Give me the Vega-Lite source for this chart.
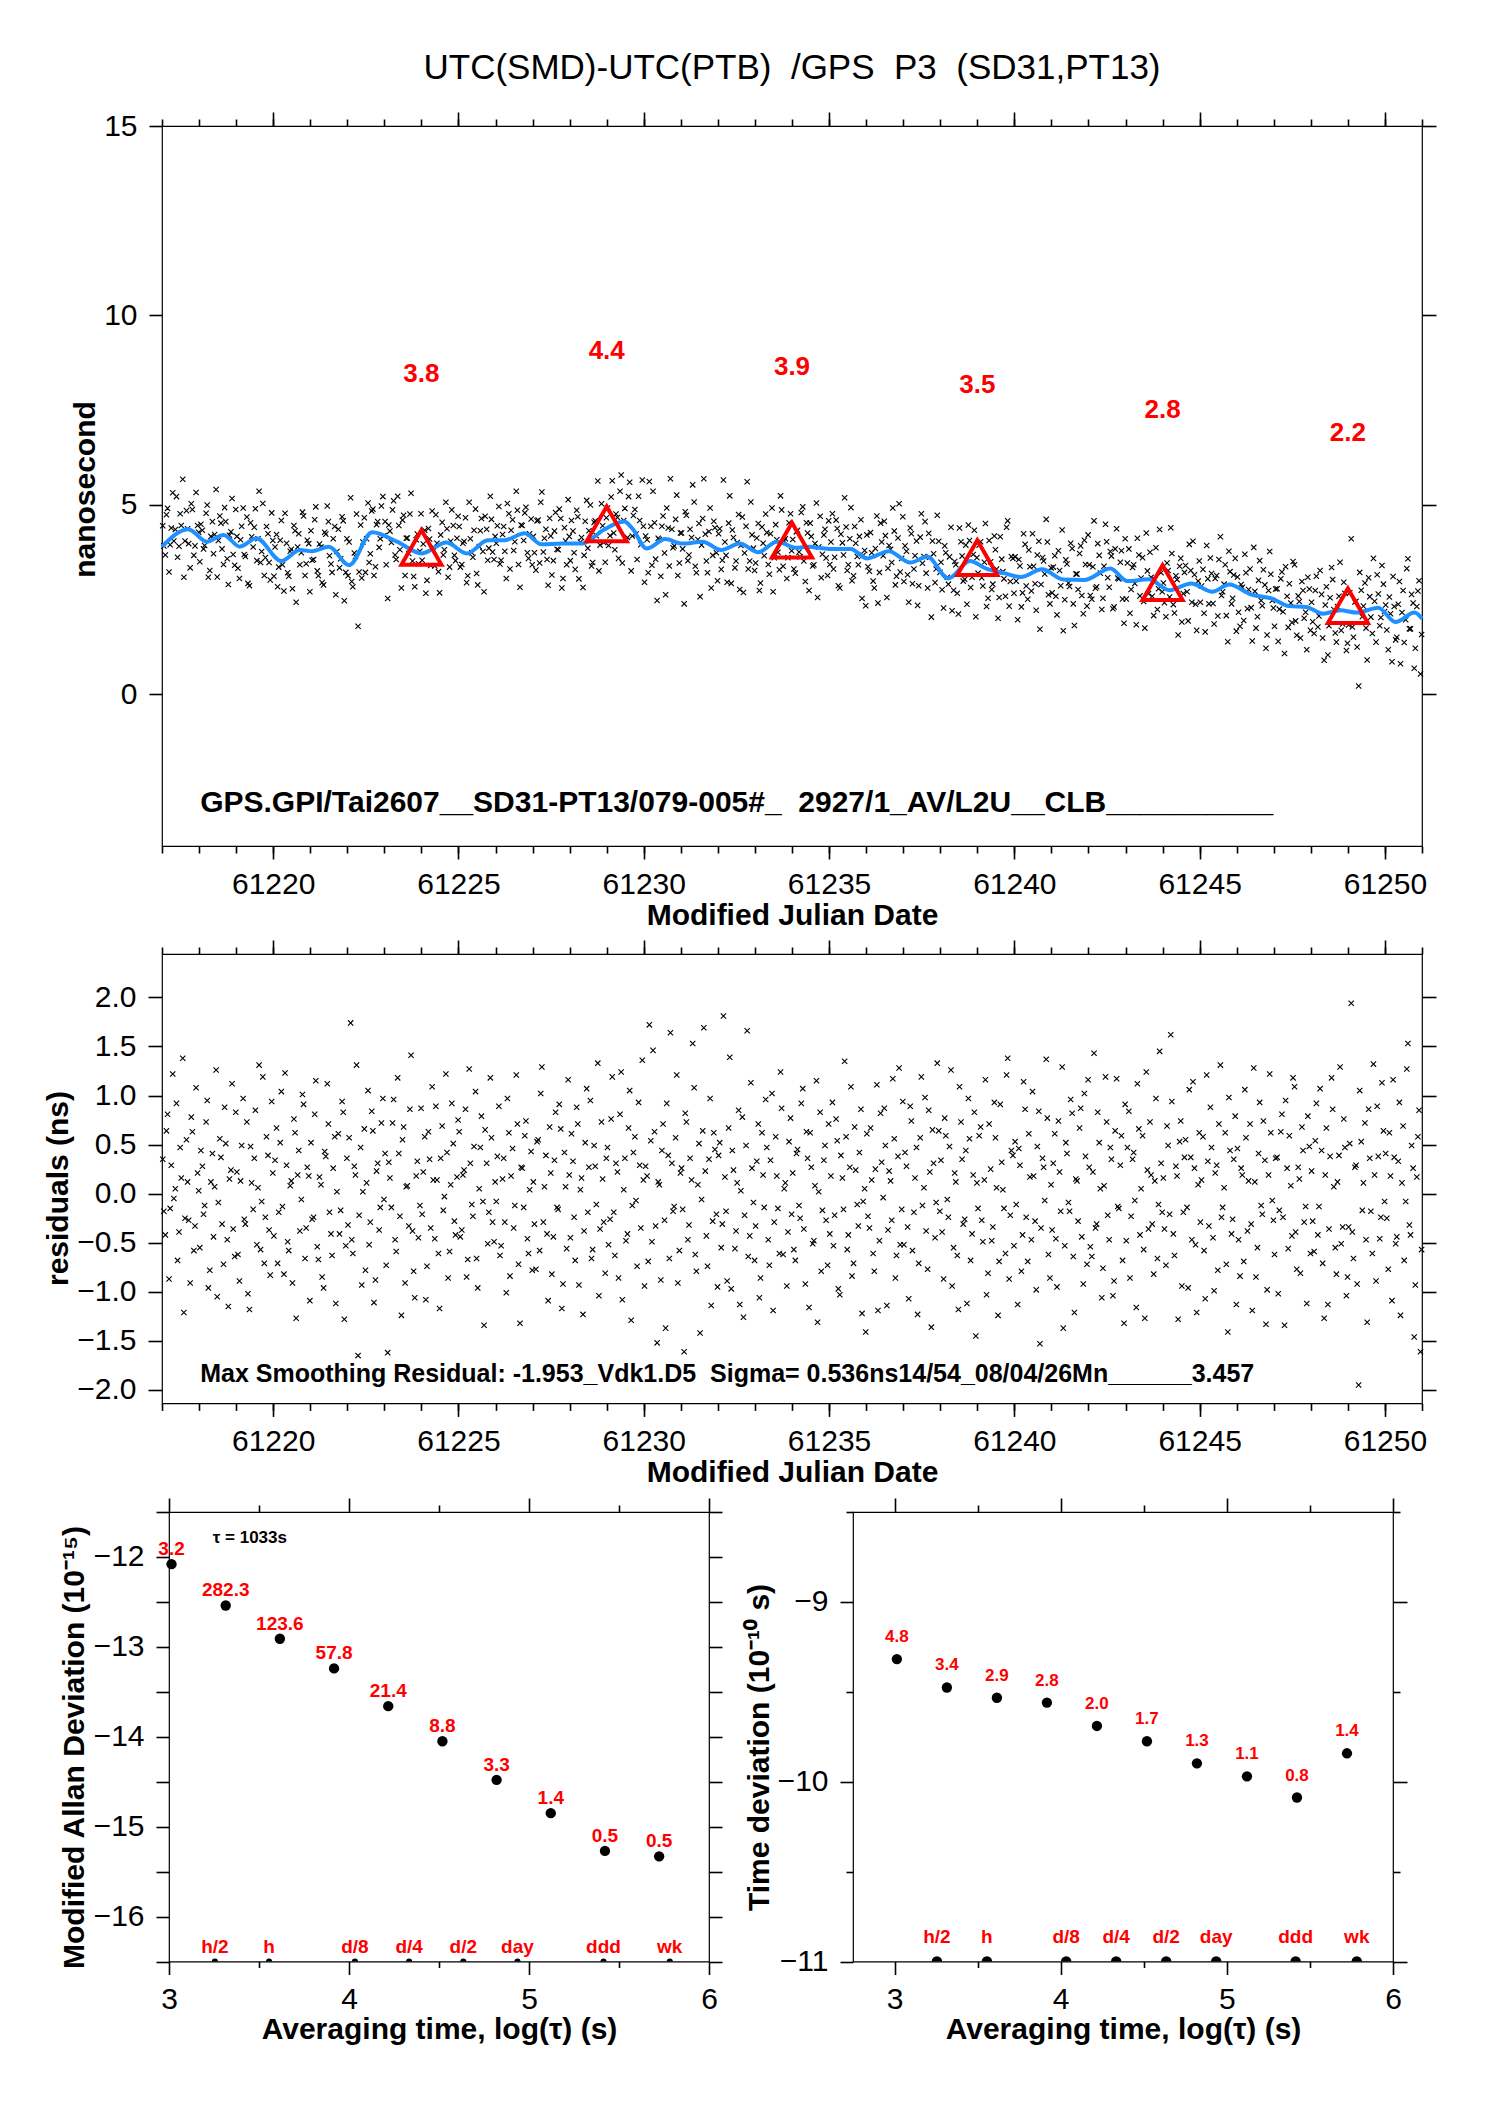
{
  "$schema": "https://vega.github.io/schema/vega-lite/v6.json",
  "background": "white",
  "padding": {"left": 42, "top": 50, "right": 0, "bottom": 0},
  "bounds": "flush",
  "spacing": 108,
  "config": {
    "view": {"stroke": "#000", "strokeWidth": 1.2},
    "axis": {"domain": false, "grid": false, "tickColor": "#000", "tickWidth": 1.6, "labelFont": "Liberation Sans", "labelFontSize": 30, "labelColor": "#000", "labelPadding": 10, "labelFlush": false, "labelOverlap": false, "labelBound": false, "titleFont": "Liberation Sans", "titleFontSize": 30, "titleFontWeight": "bold", "titleColor": "#000"},
    "axisY": {"labelPadding": 12},
    "text": {"font": "Liberation Sans"},
    "title": {"font": "Liberation Sans"}
  },
  "datasets": {
    "obs": [
      {"t":61217.02,"v":4.45,"r":0.35},{"t":61217.09,"v":3.68,"r":-0.42},{"t":61217.15,"v":4.91,"r":0.81},{"t":61217.22,"v":3.95,"r":-0.15},{"t":61217.29,"v":5.32,"r":1.22},{"t":61217.36,"v":4.35,"r":0.05},{"t":61217.42,"v":3.62,"r":-0.68},{"t":61217.49,"v":4.77,"r":0.47},{"t":61217.56,"v":5.68,"r":1.38},{"t":61217.62,"v":4.05,"r":-0.25},{"t":61217.69,"v":4.37,"r":0.12},{"t":61217.76,"v":3.34,"r":-0.91},{"t":61217.82,"v":4.88,"r":0.63},{"t":61217.89,"v":3.92,"r":-0.33},{"t":61217.96,"v":4.46,"r":0.21},
      {"t":61218.02,"v":3.50,"r":-0.55},{"t":61218.09,"v":4.33,"r":0.28},{"t":61218.15,"v":3.93,"r":-0.12},{"t":61218.22,"v":5.00,"r":0.95},{"t":61218.29,"v":3.27,"r":-0.78},{"t":61218.36,"v":4.56,"r":0.41},{"t":61218.42,"v":4.22,"r":0.07},{"t":61218.49,"v":3.10,"r":-1.05},{"t":61218.56,"v":4.71,"r":0.56},{"t":61218.62,"v":3.84,"r":-0.31},{"t":61218.69,"v":4.93,"r":0.88},{"t":61218.76,"v":3.58,"r":-0.47},{"t":61218.82,"v":4.20,"r":0.15},{"t":61218.89,"v":5.17,"r":1.12},{"t":61218.96,"v":3.41,"r":-0.64},
      {"t":61219.02,"v":4.17,"r":0.22},{"t":61219.09,"v":3.06,"r":-0.89},{"t":61219.15,"v":4.44,"r":0.49},{"t":61219.22,"v":3.69,"r":-0.26},{"t":61219.29,"v":4.68,"r":0.73},{"t":61219.36,"v":2.87,"r":-1.18},{"t":61219.42,"v":4.16,"r":0.11},{"t":61219.49,"v":4.41,"r":0.36},{"t":61219.56,"v":3.53,"r":-0.52},{"t":61219.62,"v":5.36,"r":1.31},{"t":61219.69,"v":3.77,"r":-0.08},{"t":61219.76,"v":3.14,"r":-0.71},{"t":61219.82,"v":4.43,"r":0.58},{"t":61219.89,"v":3.48,"r":-0.37},{"t":61219.96,"v":4.79,"r":0.94},
      {"t":61220.02,"v":3.12,"r":-0.43},{"t":61220.09,"v":4.22,"r":0.67},{"t":61220.15,"v":3.36,"r":-0.19},{"t":61220.22,"v":4.59,"r":1.04},{"t":61220.29,"v":2.73,"r":-0.82},{"t":61220.36,"v":3.99,"r":0.29},{"t":61220.42,"v":3.12,"r":-0.58},{"t":61220.49,"v":3.83,"r":0.13},{"t":61220.56,"v":4.46,"r":0.76},{"t":61220.62,"v":2.43,"r":-1.27},{"t":61220.69,"v":4.24,"r":0.44},{"t":61220.76,"v":3.74,"r":-0.06},{"t":61220.82,"v":4.71,"r":0.91},{"t":61220.89,"v":3.45,"r":-0.35},{"t":61220.96,"v":3.98,"r":0.18},
      {"t":61221.02,"v":4.32,"r":0.52},{"t":61221.09,"v":3.56,"r":-0.24},{"t":61221.15,"v":4.95,"r":1.15},{"t":61221.22,"v":3.13,"r":-0.67},{"t":61221.29,"v":3.89,"r":0.09},{"t":61221.36,"v":2.89,"r":-0.96},{"t":61221.42,"v":4.23,"r":0.38},{"t":61221.49,"v":4.56,"r":0.71},{"t":61221.56,"v":3.44,"r":-0.41},{"t":61221.62,"v":4.11,"r":0.26},{"t":61221.69,"v":2.63,"r":-1.12},{"t":61221.76,"v":4.36,"r":0.61},{"t":61221.82,"v":3.58,"r":-0.17},{"t":61221.89,"v":4.58,"r":0.83},{"t":61221.96,"v":3.22,"r":-0.53},
      {"t":61222.02,"v":3.13,"r":-0.32},{"t":61222.09,"v":5.19,"r":1.74},{"t":61222.15,"v":2.84,"r":-0.61},{"t":61222.22,"v":3.64,"r":0.19},{"t":61222.29,"v":1.80,"r":-1.65},{"t":61222.36,"v":4.47,"r":0.47},{"t":61222.42,"v":4.02,"r":0.02},{"t":61222.49,"v":3.22,"r":-0.78},{"t":61222.56,"v":5.05,"r":1.05},{"t":61222.62,"v":3.71,"r":-0.29},{"t":61222.69,"v":4.89,"r":0.64},{"t":61222.76,"v":3.37,"r":-0.88},{"t":61222.82,"v":4.56,"r":0.31},{"t":61222.89,"v":4.11,"r":-0.14},{"t":61222.96,"v":5.22,"r":0.97},
      {"t":61223.02,"v":4.56,"r":0.41},{"t":61223.09,"v":2.53,"r":-1.62},{"t":61223.15,"v":4.31,"r":0.16},{"t":61223.22,"v":4.87,"r":0.72},{"t":61223.29,"v":3.68,"r":-0.47},{"t":61223.36,"v":5.23,"r":1.18},{"t":61223.42,"v":3.82,"r":-0.23},{"t":61223.49,"v":4.60,"r":0.55},{"t":61223.56,"v":3.14,"r":-0.91},{"t":61223.62,"v":4.13,"r":0.08},{"t":61223.69,"v":4.76,"r":0.86},{"t":61223.76,"v":3.52,"r":-0.38},{"t":61223.82,"v":2.84,"r":-1.06},{"t":61223.89,"v":4.23,"r":0.33},{"t":61223.96,"v":3.78,"r":-0.12},
      {"t":61224.02,"v":3.54,"r":-0.21},{"t":61224.09,"v":4.33,"r":0.58},{"t":61224.15,"v":3.01,"r":-0.74},{"t":61224.22,"v":4.10,"r":0.35},{"t":61224.29,"v":4.84,"r":1.09},{"t":61224.36,"v":3.39,"r":-0.46},{"t":61224.42,"v":3.99,"r":0.14},{"t":61224.49,"v":2.68,"r":-1.17},{"t":61224.56,"v":4.54,"r":0.69},{"t":61224.62,"v":3.82,"r":-0.03},{"t":61224.69,"v":4.37,"r":0.42},{"t":61224.76,"v":3.36,"r":-0.59},{"t":61224.82,"v":4.87,"r":0.92},{"t":61224.89,"v":3.67,"r":-0.28},{"t":61224.96,"v":4.12,"r":0.17},
      {"t":61225.02,"v":4.43,"r":0.63},{"t":61225.09,"v":3.43,"r":-0.37},{"t":61225.15,"v":4.04,"r":0.24},{"t":61225.22,"v":2.95,"r":-0.85},{"t":61225.29,"v":5.07,"r":1.27},{"t":61225.36,"v":3.74,"r":-0.11},{"t":61225.42,"v":4.33,"r":0.48},{"t":61225.49,"v":3.19,"r":-0.66},{"t":61225.56,"v":3.90,"r":0.05},{"t":61225.62,"v":4.64,"r":0.79},{"t":61225.69,"v":2.71,"r":-1.34},{"t":61225.76,"v":4.36,"r":0.31},{"t":61225.82,"v":3.86,"r":-0.19},{"t":61225.89,"v":4.62,"r":0.57},{"t":61225.96,"v":3.56,"r":-0.49},
      {"t":61226.02,"v":3.99,"r":-0.08},{"t":61226.09,"v":4.96,"r":0.89},{"t":61226.15,"v":3.54,"r":-0.53},{"t":61226.22,"v":4.43,"r":0.36},{"t":61226.29,"v":3.06,"r":-1.01},{"t":61226.36,"v":4.77,"r":0.62},{"t":61226.42,"v":4.33,"r":0.18},{"t":61226.49,"v":3.80,"r":-0.35},{"t":61226.56,"v":5.36,"r":1.21},{"t":61226.62,"v":3.43,"r":-0.72},{"t":61226.69,"v":4.47,"r":0.27},{"t":61226.76,"v":4.06,"r":-0.14},{"t":61226.82,"v":4.94,"r":0.74},{"t":61226.89,"v":3.59,"r":-0.61},{"t":61226.96,"v":4.63,"r":0.43},
      {"t":61227.02,"v":4.17,"r":0.12},{"t":61227.09,"v":3.28,"r":-0.77},{"t":61227.15,"v":4.60,"r":0.55},{"t":61227.22,"v":5.07,"r":1.02},{"t":61227.29,"v":3.76,"r":-0.29},{"t":61227.36,"v":4.36,"r":0.39},{"t":61227.42,"v":2.88,"r":-1.09},{"t":61227.49,"v":4.18,"r":0.21},{"t":61227.56,"v":3.53,"r":-0.44},{"t":61227.62,"v":4.80,"r":0.83},{"t":61227.69,"v":3.82,"r":-0.16},{"t":61227.76,"v":4.64,"r":0.66},{"t":61227.82,"v":3.06,"r":-0.92},{"t":61227.89,"v":4.05,"r":0.07},{"t":61227.96,"v":5.14,"r":1.16},
      {"t":61228.02,"v":3.53,"r":-0.45},{"t":61228.09,"v":4.31,"r":0.33},{"t":61228.15,"v":3.30,"r":-0.68},{"t":61228.22,"v":4.69,"r":0.71},{"t":61228.29,"v":4.02,"r":0.04},{"t":61228.36,"v":2.82,"r":-1.23},{"t":61228.42,"v":4.57,"r":0.52},{"t":61228.49,"v":3.86,"r":-0.19},{"t":61228.56,"v":5.00,"r":0.95},{"t":61228.62,"v":3.48,"r":-0.57},{"t":61228.69,"v":4.58,"r":0.28},{"t":61228.76,"v":5.63,"r":1.33},{"t":61228.82,"v":3.94,"r":-0.36},{"t":61228.89,"v":4.45,"r":0.15},{"t":61228.96,"v":3.49,"r":-0.81},
      {"t":61229.02,"v":4.92,"r":0.47},{"t":61229.09,"v":4.19,"r":-0.26},{"t":61229.15,"v":5.64,"r":1.19},{"t":61229.22,"v":3.82,"r":-0.63},{"t":61229.29,"v":4.67,"r":0.22},{"t":61229.36,"v":5.36,"r":0.81},{"t":61229.42,"v":3.47,"r":-1.08},{"t":61229.49,"v":4.91,"r":0.36},{"t":61229.56,"v":4.14,"r":-0.41},{"t":61229.62,"v":5.60,"r":1.05},{"t":61229.69,"v":4.18,"r":-0.12},{"t":61229.76,"v":4.88,"r":0.58},{"t":61229.82,"v":3.56,"r":-0.74},{"t":61229.89,"v":4.59,"r":0.29},{"t":61229.96,"v":5.66,"r":1.36},
      {"t":61230.02,"v":2.96,"r":-0.94},{"t":61230.09,"v":4.08,"r":0.18},{"t":61230.15,"v":5.62,"r":1.72},{"t":61230.22,"v":3.41,"r":-0.49},{"t":61230.29,"v":4.53,"r":0.63},{"t":61230.36,"v":2.48,"r":-1.52},{"t":61230.42,"v":4.09,"r":0.09},{"t":61230.49,"v":4.44,"r":0.44},{"t":61230.56,"v":3.73,"r":-0.27},{"t":61230.62,"v":4.92,"r":0.92},{"t":61230.69,"v":3.39,"r":-0.66},{"t":61230.76,"v":4.36,"r":0.31},{"t":61230.82,"v":3.92,"r":-0.13},{"t":61230.89,"v":5.26,"r":1.21},{"t":61230.96,"v":3.47,"r":-0.58},
      {"t":61231.02,"v":4.26,"r":0.26},{"t":61231.09,"v":2.39,"r":-1.61},{"t":61231.15,"v":4.73,"r":0.73},{"t":61231.22,"v":3.68,"r":-0.32},{"t":61231.29,"v":4.14,"r":0.14},{"t":61231.36,"v":5.08,"r":1.08},{"t":61231.42,"v":3.21,"r":-0.79},{"t":61231.49,"v":4.51,"r":0.51},{"t":61231.56,"v":3.94,"r":-0.06},{"t":61231.62,"v":5.69,"r":1.69},{"t":61231.69,"v":3.52,"r":-0.43},{"t":61231.76,"v":4.30,"r":0.35},{"t":61231.82,"v":2.81,"r":-1.14},{"t":61231.89,"v":4.57,"r":0.62},{"t":61231.96,"v":3.74,"r":-0.21},
      {"t":61232.02,"v":4.24,"r":0.39},{"t":61232.09,"v":3.30,"r":-0.55},{"t":61232.15,"v":5.66,"r":1.81},{"t":61232.22,"v":3.67,"r":-0.18},{"t":61232.29,"v":4.52,"r":0.67},{"t":61232.36,"v":2.93,"r":-0.97},{"t":61232.42,"v":4.14,"r":0.24},{"t":61232.49,"v":3.52,"r":-0.38},{"t":61232.56,"v":4.75,"r":0.85},{"t":61232.62,"v":3.93,"r":0.03},{"t":61232.69,"v":2.69,"r":-1.26},{"t":61232.76,"v":4.44,"r":0.49},{"t":61232.82,"v":3.31,"r":-0.64},{"t":61232.89,"v":5.08,"r":1.13},{"t":61232.96,"v":3.86,"r":-0.09},
      {"t":61233.02,"v":3.47,"r":-0.33},{"t":61233.09,"v":4.51,"r":0.71},{"t":61233.15,"v":2.94,"r":-0.86},{"t":61233.22,"v":3.99,"r":0.19},{"t":61233.29,"v":4.76,"r":0.96},{"t":61233.36,"v":3.43,"r":-0.47},{"t":61233.42,"v":4.24,"r":0.34},{"t":61233.49,"v":2.71,"r":-1.19},{"t":61233.56,"v":4.48,"r":0.58},{"t":61233.62,"v":3.75,"r":-0.15},{"t":61233.69,"v":5.24,"r":1.24},{"t":61233.76,"v":3.38,"r":-0.62},{"t":61233.82,"v":4.11,"r":0.11},{"t":61233.89,"v":3.61,"r":-0.39},{"t":61233.96,"v":4.77,"r":0.77},
      {"t":61234.02,"v":4.09,"r":0.21},{"t":61234.09,"v":3.20,"r":-0.68},{"t":61234.15,"v":4.33,"r":0.45},{"t":61234.22,"v":3.63,"r":-0.25},{"t":61234.29,"v":4.95,"r":1.07},{"t":61234.36,"v":2.98,"r":-0.92},{"t":61234.42,"v":4.26,"r":0.36},{"t":61234.49,"v":4.52,"r":0.62},{"t":61234.56,"v":3.39,"r":-0.51},{"t":61234.62,"v":3.98,"r":0.08},{"t":61234.69,"v":2.56,"r":-1.31},{"t":61234.76,"v":4.70,"r":0.83},{"t":61234.82,"v":3.70,"r":-0.17},{"t":61234.89,"v":4.36,"r":0.49},{"t":61234.96,"v":3.14,"r":-0.73},
      {"t":61235.02,"v":3.43,"r":-0.41},{"t":61235.09,"v":4.77,"r":0.93},{"t":61235.15,"v":3.62,"r":-0.22},{"t":61235.22,"v":4.38,"r":0.54},{"t":61235.29,"v":2.81,"r":-1.03},{"t":61235.36,"v":4.00,"r":0.16},{"t":61235.42,"v":5.19,"r":1.35},{"t":61235.49,"v":3.27,"r":-0.57},{"t":61235.56,"v":4.11,"r":0.27},{"t":61235.62,"v":3.00,"r":-0.84},{"t":61235.69,"v":4.43,"r":0.68},{"t":61235.76,"v":3.64,"r":-0.11},{"t":61235.82,"v":4.17,"r":0.42},{"t":61235.89,"v":2.53,"r":-1.22},{"t":61235.96,"v":3.80,"r":0.05},
      {"t":61236.02,"v":4.21,"r":0.61},{"t":61236.09,"v":3.25,"r":-0.35},{"t":61236.15,"v":3.74,"r":0.14},{"t":61236.22,"v":2.81,"r":-0.79},{"t":61236.29,"v":4.71,"r":1.11},{"t":61236.36,"v":3.22,"r":-0.48},{"t":61236.42,"v":4.02,"r":0.32},{"t":61236.49,"v":4.57,"r":0.87},{"t":61236.56,"v":2.56,"r":-1.14},{"t":61236.62,"v":3.93,"r":0.23},{"t":61236.69,"v":3.48,"r":-0.27},{"t":61236.76,"v":4.31,"r":0.56},{"t":61236.82,"v":3.12,"r":-0.63},{"t":61236.89,"v":5.03,"r":1.28},{"t":61236.96,"v":3.59,"r":-0.16},
      {"t":61237.02,"v":2.98,"r":-0.52},{"t":61237.09,"v":3.78,"r":0.28},{"t":61237.15,"v":2.43,"r":-1.07},{"t":61237.22,"v":4.24,"r":0.74},{"t":61237.29,"v":3.31,"r":-0.19},{"t":61237.36,"v":4.05,"r":0.47},{"t":61237.42,"v":2.87,"r":-0.71},{"t":61237.49,"v":4.77,"r":1.19},{"t":61237.56,"v":3.64,"r":0.06},{"t":61237.62,"v":3.20,"r":-0.38},{"t":61237.69,"v":4.25,"r":0.85},{"t":61237.76,"v":2.04,"r":-1.36},{"t":61237.82,"v":3.71,"r":0.31},{"t":61237.89,"v":3.31,"r":-0.09},{"t":61237.96,"v":4.04,"r":0.64},
      {"t":61238.02,"v":3.49,"r":0.34},{"t":61238.09,"v":2.28,"r":-0.87},{"t":61238.15,"v":3.74,"r":0.59},{"t":61238.22,"v":2.91,"r":-0.24},{"t":61238.29,"v":4.41,"r":1.26},{"t":61238.36,"v":2.75,"r":-0.55},{"t":61238.42,"v":3.42,"r":0.12},{"t":61238.49,"v":2.12,"r":-1.18},{"t":61238.56,"v":4.03,"r":0.73},{"t":61238.62,"v":2.99,"r":-0.31},{"t":61238.69,"v":3.94,"r":0.44},{"t":61238.76,"v":4.47,"r":0.97},{"t":61238.82,"v":2.82,"r":-0.68},{"t":61238.89,"v":3.69,"r":0.19},{"t":61238.96,"v":2.05,"r":-1.45},
      {"t":61239.02,"v":3.20,"r":-0.15},{"t":61239.09,"v":4.03,"r":0.68},{"t":61239.15,"v":2.86,"r":-0.49},{"t":61239.22,"v":4.51,"r":1.16},{"t":61239.29,"v":2.54,"r":-0.81},{"t":61239.36,"v":3.50,"r":0.25},{"t":61239.42,"v":2.91,"r":-0.34},{"t":61239.49,"v":3.82,"r":0.57},{"t":61239.56,"v":2.01,"r":-1.24},{"t":61239.62,"v":4.16,"r":0.91},{"t":61239.69,"v":3.24,"r":0.04},{"t":61239.76,"v":2.59,"r":-0.61},{"t":61239.82,"v":4.58,"r":1.38},{"t":61239.89,"v":2.98,"r":-0.22},{"t":61239.96,"v":3.59,"r":0.39},
      {"t":61240.02,"v":3.63,"r":0.53},{"t":61240.09,"v":1.97,"r":-1.13},{"t":61240.15,"v":3.39,"r":0.29},{"t":61240.22,"v":2.68,"r":-0.42},{"t":61240.29,"v":3.96,"r":0.86},{"t":61240.36,"v":2.51,"r":-0.69},{"t":61240.42,"v":3.37,"r":0.17},{"t":61240.49,"v":4.24,"r":1.04},{"t":61240.56,"v":2.92,"r":-0.28},{"t":61240.62,"v":3.68,"r":0.48},{"t":61240.69,"v":1.72,"r":-1.53},{"t":61240.76,"v":3.61,"r":0.36},{"t":61240.82,"v":3.18,"r":-0.07},{"t":61240.89,"v":4.02,"r":0.77},{"t":61240.96,"v":2.39,"r":-0.86},
      {"t":61241.02,"v":2.68,"r":-0.37},{"t":61241.09,"v":3.66,"r":0.61},{"t":61241.15,"v":2.10,"r":-0.95},{"t":61241.22,"v":3.27,"r":0.22},{"t":61241.29,"v":4.34,"r":1.29},{"t":61241.36,"v":2.50,"r":-0.53},{"t":61241.42,"v":3.44,"r":0.41},{"t":61241.49,"v":2.85,"r":-0.18},{"t":61241.56,"v":3.85,"r":0.82},{"t":61241.62,"v":1.82,"r":-1.21},{"t":61241.69,"v":3.18,"r":0.13},{"t":61241.76,"v":3.72,"r":0.67},{"t":61241.82,"v":2.61,"r":-0.44},{"t":61241.89,"v":4.07,"r":1.02},{"t":61241.96,"v":2.33,"r":-0.72},
      {"t":61242.02,"v":3.42,"r":0.27},{"t":61242.09,"v":2.51,"r":-0.64},{"t":61242.15,"v":4.58,"r":1.43},{"t":61242.22,"v":2.84,"r":-0.31},{"t":61242.29,"v":3.67,"r":0.52},{"t":61242.36,"v":2.24,"r":-1.06},{"t":61242.42,"v":3.38,"r":0.08},{"t":61242.49,"v":4.03,"r":0.73},{"t":61242.56,"v":2.83,"r":-0.47},{"t":61242.62,"v":3.65,"r":0.35},{"t":61242.69,"v":2.31,"r":-0.89},{"t":61242.76,"v":4.37,"r":1.17},{"t":61242.82,"v":3.05,"r":-0.15},{"t":61242.89,"v":3.79,"r":0.59},{"t":61242.96,"v":1.88,"r":-1.32},
      {"t":61243.02,"v":2.52,"r":-0.48},{"t":61243.09,"v":3.84,"r":0.84},{"t":61243.15,"v":2.77,"r":-0.23},{"t":61243.22,"v":3.42,"r":0.42},{"t":61243.29,"v":1.84,"r":-1.16},{"t":61243.36,"v":3.68,"r":0.66},{"t":61243.42,"v":3.07,"r":0.05},{"t":61243.49,"v":2.45,"r":-0.57},{"t":61243.56,"v":4.26,"r":1.24},{"t":61243.62,"v":2.66,"r":-0.36},{"t":61243.69,"v":3.09,"r":0.19},{"t":61243.76,"v":2.08,"r":-0.82},{"t":61243.82,"v":3.87,"r":0.97},{"t":61243.89,"v":2.79,"r":-0.11},{"t":61243.96,"v":3.21,"r":0.31},
      {"t":61244.02,"v":2.94,"r":0.16},{"t":61244.09,"v":2.05,"r":-0.73},{"t":61244.15,"v":3.27,"r":0.49},{"t":61244.22,"v":4.40,"r":1.62},{"t":61244.29,"v":2.37,"r":-0.41},{"t":61244.36,"v":3.13,"r":0.28},{"t":61244.42,"v":1.57,"r":-1.28},{"t":61244.49,"v":3.59,"r":0.74},{"t":61244.56,"v":2.66,"r":-0.19},{"t":61244.62,"v":3.40,"r":0.55},{"t":61244.69,"v":1.94,"r":-0.96},{"t":61244.76,"v":3.27,"r":0.37},{"t":61244.82,"v":4.04,"r":1.14},{"t":61244.89,"v":2.38,"r":-0.52},{"t":61244.96,"v":2.99,"r":0.09},
      {"t":61245.02,"v":2.43,"r":-0.29},{"t":61245.09,"v":3.30,"r":0.58},{"t":61245.15,"v":1.65,"r":-1.07},{"t":61245.22,"v":3.05,"r":0.33},{"t":61245.29,"v":3.60,"r":0.88},{"t":61245.36,"v":2.40,"r":-0.45},{"t":61245.42,"v":3.06,"r":0.21},{"t":61245.49,"v":2.07,"r":-0.78},{"t":61245.56,"v":4.16,"r":1.31},{"t":61245.62,"v":2.71,"r":-0.14},{"t":61245.69,"v":3.42,"r":0.62},{"t":61245.76,"v":1.39,"r":-1.41},{"t":61245.82,"v":3.24,"r":0.44},{"t":61245.89,"v":2.54,"r":-0.26},{"t":61245.96,"v":3.59,"r":0.79},
      {"t":61246.02,"v":3.10,"r":0.46},{"t":61246.09,"v":1.80,"r":-0.84},{"t":61246.15,"v":2.83,"r":0.19},{"t":61246.22,"v":3.70,"r":1.06},{"t":61246.29,"v":2.26,"r":-0.38},{"t":61246.36,"v":3.31,"r":0.71},{"t":61246.42,"v":1.41,"r":-1.19},{"t":61246.49,"v":2.72,"r":0.12},{"t":61246.56,"v":2.05,"r":-0.55},{"t":61246.62,"v":3.53,"r":0.93},{"t":61246.69,"v":2.34,"r":-0.21},{"t":61246.76,"v":2.89,"r":0.34},{"t":61246.82,"v":1.57,"r":-0.98},{"t":61246.89,"v":3.77,"r":1.22},{"t":61246.96,"v":2.48,"r":-0.07},
      {"t":61247.02,"v":1.80,"r":-0.62},{"t":61247.09,"v":2.79,"r":0.37},{"t":61247.15,"v":2.25,"r":-0.17},{"t":61247.22,"v":3.23,"r":0.81},{"t":61247.29,"v":1.08,"r":-1.34},{"t":61247.36,"v":2.59,"r":0.26},{"t":61247.42,"v":2.92,"r":0.59},{"t":61247.49,"v":1.90,"r":-0.43},{"t":61247.56,"v":3.42,"r":1.09},{"t":61247.62,"v":1.56,"r":-0.77},{"t":61247.69,"v":2.45,"r":0.15},{"t":61247.76,"v":2.98,"r":0.68},{"t":61247.82,"v":2.01,"r":-0.29},{"t":61247.89,"v":1.18,"r":-1.12},{"t":61247.96,"v":2.78,"r":0.48},
      {"t":61248.02,"v":2.43,"r":0.23},{"t":61248.09,"v":1.61,"r":-0.59},{"t":61248.15,"v":3.12,"r":0.92},{"t":61248.22,"v":2.07,"r":-0.13},{"t":61248.29,"v":2.64,"r":0.44},{"t":61248.36,"v":0.90,"r":-1.27},{"t":61248.42,"v":2.84,"r":0.67},{"t":61248.49,"v":1.81,"r":-0.36},{"t":61248.56,"v":3.35,"r":1.18},{"t":61248.62,"v":2.24,"r":0.07},{"t":61248.69,"v":1.38,"r":-0.82},{"t":61248.76,"v":2.59,"r":0.39},{"t":61248.82,"v":1.69,"r":-0.51},{"t":61248.89,"v":2.96,"r":0.76},{"t":61248.96,"v":1.16,"r":-1.04},
      {"t":61249.02,"v":1.83,"r":-0.34},{"t":61249.09,"v":4.11,"r":1.94},{"t":61249.15,"v":1.51,"r":-0.66},{"t":61249.22,"v":2.46,"r":0.29},{"t":61249.29,"v":0.22,"r":-1.95},{"t":61249.36,"v":2.75,"r":0.53},{"t":61249.42,"v":2.33,"r":0.11},{"t":61249.49,"v":1.75,"r":-0.47},{"t":61249.56,"v":3.08,"r":0.86},{"t":61249.62,"v":2.04,"r":-0.18},{"t":61249.69,"v":3.59,"r":1.32},{"t":61249.76,"v":1.38,"r":-0.89},{"t":61249.82,"v":2.65,"r":0.38},{"t":61249.89,"v":2.03,"r":-0.24},{"t":61249.96,"v":2.91,"r":0.64},
      {"t":61250.02,"v":2.36,"r":0.41},{"t":61250.09,"v":1.18,"r":-0.77},{"t":61250.15,"v":2.13,"r":0.18},{"t":61250.22,"v":3.11,"r":1.16},{"t":61250.29,"v":1.44,"r":-0.51},{"t":61250.36,"v":2.38,"r":0.33},{"t":61250.42,"v":0.81,"r":-1.24},{"t":61250.49,"v":2.74,"r":0.69},{"t":61250.56,"v":1.97,"r":-0.08},{"t":61250.62,"v":3.58,"r":1.53},{"t":61250.69,"v":1.73,"r":-0.42},{"t":61250.76,"v":2.41,"r":0.26},{"t":61250.82,"v":1.22,"r":-0.93},{"t":61250.89,"v":2.73,"r":0.58},{"t":61250.96,"v":0.54,"r":-1.61},
      {"t":61217.05,"v":3.92,"r":-0.18},{"t":61217.12,"v":4.74,"r":0.64},{"t":61217.19,"v":3.23,"r":-0.87},{"t":61217.25,"v":4.39,"r":0.29},{"t":61217.32,"v":4.05,"r":-0.05},{"t":61217.39,"v":5.22,"r":0.92},{"t":61217.46,"v":3.91,"r":-0.39},{"t":61217.52,"v":4.46,"r":0.16},{"t":61217.59,"v":3.09,"r":-1.21},{"t":61217.66,"v":4.85,"r":0.55},{"t":61217.72,"v":3.98,"r":-0.27},{"t":61217.79,"v":5.03,"r":0.78},{"t":61217.86,"v":3.67,"r":-0.58},{"t":61217.92,"v":5.33,"r":1.08},{"t":61217.99,"v":4.28,"r":0.03},
      {"t":61218.05,"v":4.49,"r":0.44},{"t":61218.12,"v":3.84,"r":-0.21},{"t":61218.19,"v":4.78,"r":0.73},{"t":61218.25,"v":3.09,"r":-0.96},{"t":61218.32,"v":4.17,"r":0.12},{"t":61218.39,"v":3.71,"r":-0.44},{"t":61218.46,"v":5.41,"r":1.26},{"t":61218.52,"v":4.06,"r":-0.09},{"t":61218.59,"v":4.52,"r":0.37},{"t":61218.66,"v":3.43,"r":-0.72},{"t":61218.72,"v":4.56,"r":0.51},{"t":61218.79,"v":2.90,"r":-1.15},{"t":61218.86,"v":4.29,"r":0.24},{"t":61218.92,"v":3.69,"r":-0.36},{"t":61218.99,"v":4.88,"r":0.83},
      {"t":61219.05,"v":3.33,"r":-0.62},{"t":61219.12,"v":4.08,"r":0.13},{"t":61219.19,"v":4.92,"r":0.97},{"t":61219.25,"v":3.64,"r":-0.31},{"t":61219.32,"v":2.93,"r":-1.02},{"t":61219.39,"v":4.53,"r":0.48},{"t":61219.46,"v":3.89,"r":-0.16},{"t":61219.52,"v":4.90,"r":0.85},{"t":61219.59,"v":4.11,"r":0.06},{"t":61219.66,"v":3.48,"r":-0.57},{"t":61219.72,"v":5.04,"r":1.19},{"t":61219.79,"v":3.61,"r":-0.24},{"t":61219.86,"v":4.24,"r":0.39},{"t":61219.92,"v":3.02,"r":-0.83},{"t":61219.99,"v":4.06,"r":0.21},
      {"t":61220.05,"v":3.89,"r":0.34},{"t":61220.12,"v":2.84,"r":-0.71},{"t":61220.19,"v":4.07,"r":0.52},{"t":61220.25,"v":3.42,"r":-0.13},{"t":61220.32,"v":4.78,"r":1.23},{"t":61220.39,"v":3.21,"r":-0.49},{"t":61220.46,"v":3.78,"r":0.08},{"t":61220.52,"v":2.79,"r":-0.91},{"t":61220.59,"v":4.32,"r":0.62},{"t":61220.66,"v":3.89,"r":0.19},{"t":61220.72,"v":3.42,"r":-0.38},{"t":61220.79,"v":4.81,"r":1.01},{"t":61220.86,"v":3.14,"r":-0.66},{"t":61220.92,"v":4.07,"r":0.27},{"t":61220.99,"v":2.71,"r":-1.09},
      {"t":61221.05,"v":3.54,"r":-0.26},{"t":61221.12,"v":4.61,"r":0.81},{"t":61221.19,"v":3.26,"r":-0.54},{"t":61221.25,"v":3.97,"r":0.17},{"t":61221.32,"v":2.95,"r":-0.85},{"t":61221.39,"v":4.28,"r":0.43},{"t":61221.46,"v":4.97,"r":1.12},{"t":61221.52,"v":3.66,"r":-0.19},{"t":61221.59,"v":3.22,"r":-0.63},{"t":61221.66,"v":4.43,"r":0.58},{"t":61221.72,"v":3.77,"r":0.02},{"t":61221.79,"v":3.34,"r":-0.41},{"t":61221.86,"v":4.69,"r":0.94},{"t":61221.92,"v":2.47,"r":-1.28},{"t":61221.99,"v":4.11,"r":0.36},
      {"t":61222.05,"v":4.02,"r":0.57},{"t":61222.12,"v":2.98,"r":-0.47},{"t":61222.19,"v":3.73,"r":0.28},{"t":61222.25,"v":4.76,"r":1.31},{"t":61222.32,"v":3.23,"r":-0.22},{"t":61222.39,"v":3.07,"r":-0.93},{"t":61222.46,"v":4.66,"r":0.66},{"t":61222.52,"v":4.11,"r":0.11},{"t":61222.59,"v":3.48,"r":-0.52},{"t":61222.66,"v":4.84,"r":0.84},{"t":61222.72,"v":3.14,"r":-1.11},{"t":61222.79,"v":4.48,"r":0.23},{"t":61222.86,"v":3.88,"r":-0.37},{"t":61222.92,"v":4.97,"r":0.72},{"t":61222.99,"v":4.19,"r":-0.06},
      {"t":61223.05,"v":3.42,"r":-0.73},{"t":61223.12,"v":4.47,"r":0.32},{"t":61223.19,"v":4.01,"r":-0.14},{"t":61223.25,"v":5.11,"r":0.96},{"t":61223.32,"v":3.56,"r":-0.59},{"t":61223.39,"v":4.46,"r":0.41},{"t":61223.46,"v":2.81,"r":-1.24},{"t":61223.52,"v":4.73,"r":0.68},{"t":61223.59,"v":4.12,"r":0.07},{"t":61223.66,"v":3.72,"r":-0.33},{"t":61223.72,"v":5.31,"r":1.41},{"t":61223.79,"v":3.11,"r":-0.79},{"t":61223.86,"v":4.08,"r":0.18},{"t":61223.92,"v":3.45,"r":-0.45},{"t":61223.99,"v":4.77,"r":0.87},
      {"t":61224.05,"v":3.97,"r":0.22},{"t":61224.12,"v":2.67,"r":-1.08},{"t":61224.19,"v":4.38,"r":0.63},{"t":61224.25,"v":3.40,"r":-0.35},{"t":61224.32,"v":3.89,"r":0.14},{"t":61224.39,"v":4.74,"r":0.89},{"t":61224.46,"v":3.24,"r":-0.61},{"t":61224.52,"v":4.21,"r":0.36},{"t":61224.59,"v":3.68,"r":-0.17},{"t":61224.66,"v":5.07,"r":1.22},{"t":61224.72,"v":3.09,"r":-0.86},{"t":61224.79,"v":4.04,"r":0.09},{"t":61224.86,"v":4.46,"r":0.51},{"t":61224.92,"v":3.53,"r":-0.42},{"t":61224.99,"v":4.70,"r":0.75},
      {"t":61225.05,"v":3.36,"r":-0.44},{"t":61225.12,"v":3.99,"r":0.19},{"t":61225.19,"v":4.66,"r":0.86},{"t":61225.25,"v":3.13,"r":-0.67},{"t":61225.32,"v":4.11,"r":0.31},{"t":61225.39,"v":3.62,"r":-0.23},{"t":61225.46,"v":4.89,"r":1.04},{"t":61225.52,"v":2.89,"r":-0.96},{"t":61225.59,"v":4.32,"r":0.47},{"t":61225.66,"v":3.77,"r":-0.08},{"t":61225.72,"v":4.70,"r":0.65},{"t":61225.79,"v":3.54,"r":-0.51},{"t":61225.86,"v":5.23,"r":1.18},{"t":61225.92,"v":3.76,"r":-0.29},{"t":61225.99,"v":4.17,"r":0.12},
      {"t":61226.05,"v":4.45,"r":0.38},{"t":61226.12,"v":3.44,"r":-0.63},{"t":61226.19,"v":4.22,"r":0.15},{"t":61226.25,"v":3.78,"r":-0.29},{"t":61226.32,"v":5.04,"r":0.97},{"t":61226.39,"v":3.31,"r":-0.84},{"t":61226.46,"v":4.61,"r":0.46},{"t":61226.52,"v":4.03,"r":-0.12},{"t":61226.59,"v":4.86,"r":0.71},{"t":61226.66,"v":2.83,"r":-1.32},{"t":61226.72,"v":4.46,"r":0.26},{"t":61226.79,"v":4.79,"r":0.59},{"t":61226.86,"v":3.74,"r":-0.46},{"t":61226.92,"v":4.24,"r":0.04},{"t":61226.99,"v":3.42,"r":-0.78},
      {"t":61227.05,"v":3.74,"r":-0.31},{"t":61227.12,"v":4.58,"r":0.53},{"t":61227.19,"v":3.47,"r":-0.58},{"t":61227.25,"v":5.34,"r":1.29},{"t":61227.32,"v":4.12,"r":0.07},{"t":61227.39,"v":3.56,"r":-0.41},{"t":61227.46,"v":4.65,"r":0.68},{"t":61227.52,"v":3.15,"r":-0.82},{"t":61227.59,"v":4.31,"r":0.34},{"t":61227.66,"v":3.83,"r":-0.14},{"t":61227.72,"v":4.89,"r":0.91},{"t":61227.79,"v":2.81,"r":-1.17},{"t":61227.86,"v":4.40,"r":0.42},{"t":61227.92,"v":3.42,"r":-0.56},{"t":61227.99,"v":4.17,"r":0.19},
      {"t":61228.05,"v":4.59,"r":0.61},{"t":61228.12,"v":3.74,"r":-0.24},{"t":61228.19,"v":4.86,"r":0.88},{"t":61228.25,"v":3.05,"r":-0.93},{"t":61228.32,"v":4.14,"r":0.16},{"t":61228.39,"v":3.67,"r":-0.38},{"t":61228.46,"v":5.12,"r":1.07},{"t":61228.52,"v":4.32,"r":0.27},{"t":61228.59,"v":3.39,"r":-0.66},{"t":61228.66,"v":4.54,"r":0.49},{"t":61228.72,"v":4.19,"r":-0.11},{"t":61228.79,"v":3.26,"r":-1.04},{"t":61228.86,"v":5.03,"r":0.73},{"t":61228.92,"v":4.01,"r":-0.29},{"t":61228.99,"v":4.66,"r":0.36},
      {"t":61229.05,"v":3.93,"r":-0.52},{"t":61229.12,"v":5.21,"r":0.76},{"t":61229.19,"v":4.26,"r":-0.19},{"t":61229.25,"v":4.76,"r":0.31},{"t":61229.32,"v":3.59,"r":-0.86},{"t":61229.39,"v":5.79,"r":1.24},{"t":61229.46,"v":4.59,"r":0.04},{"t":61229.52,"v":4.07,"r":-0.48},{"t":61229.59,"v":5.22,"r":0.67},{"t":61229.66,"v":3.26,"r":-1.29},{"t":61229.72,"v":4.72,"r":0.42},{"t":61229.79,"v":4.23,"r":-0.07},{"t":61229.86,"v":5.23,"r":0.93},{"t":61229.92,"v":3.95,"r":-0.35},{"t":61229.99,"v":4.44,"r":0.14},
      {"t":61230.05,"v":4.18,"r":0.28},{"t":61230.12,"v":3.21,"r":-0.69},{"t":61230.19,"v":4.44,"r":0.54},{"t":61230.25,"v":5.36,"r":1.46},{"t":61230.32,"v":3.57,"r":-0.33},{"t":61230.39,"v":4.12,"r":0.12},{"t":61230.46,"v":3.12,"r":-0.88},{"t":61230.52,"v":4.71,"r":0.71},{"t":61230.59,"v":2.63,"r":-1.37},{"t":61230.66,"v":4.39,"r":0.39},{"t":61230.72,"v":5.69,"r":1.64},{"t":61230.79,"v":3.87,"r":-0.18},{"t":61230.86,"v":4.62,"r":0.57},{"t":61230.92,"v":3.14,"r":-0.91},{"t":61230.99,"v":4.26,"r":0.21},
      {"t":61231.05,"v":3.84,"r":-0.16},{"t":61231.12,"v":4.82,"r":0.82},{"t":61231.19,"v":3.53,"r":-0.47},{"t":61231.25,"v":4.36,"r":0.36},{"t":61231.32,"v":5.53,"r":1.53},{"t":61231.39,"v":3.38,"r":-0.62},{"t":61231.46,"v":4.09,"r":0.09},{"t":61231.52,"v":2.58,"r":-1.42},{"t":61231.59,"v":4.64,"r":0.64},{"t":61231.66,"v":4.23,"r":0.23},{"t":61231.72,"v":3.21,"r":-0.74},{"t":61231.79,"v":4.92,"r":0.97},{"t":61231.86,"v":3.67,"r":-0.28},{"t":61231.92,"v":4.40,"r":0.45},{"t":61231.99,"v":3.00,"r":-0.95},
      {"t":61232.05,"v":4.37,"r":0.52},{"t":61232.12,"v":3.54,"r":-0.31},{"t":61232.19,"v":4.02,"r":0.17},{"t":61232.25,"v":2.96,"r":-0.89},{"t":61232.32,"v":5.24,"r":1.39},{"t":61232.39,"v":4.34,"r":0.44},{"t":61232.46,"v":3.34,"r":-0.56},{"t":61232.52,"v":4.01,"r":0.11},{"t":61232.59,"v":2.77,"r":-1.13},{"t":61232.66,"v":4.68,"r":0.78},{"t":61232.72,"v":3.73,"r":-0.22},{"t":61232.79,"v":5.61,"r":1.66},{"t":61232.86,"v":3.52,"r":-0.43},{"t":61232.92,"v":4.21,"r":0.26},{"t":61232.99,"v":3.27,"r":-0.68},
      {"t":61233.05,"v":4.13,"r":0.33},{"t":61233.12,"v":2.74,"r":-1.06},{"t":61233.19,"v":4.42,"r":0.62},{"t":61233.25,"v":3.66,"r":-0.14},{"t":61233.32,"v":4.27,"r":0.47},{"t":61233.39,"v":3.17,"r":-0.73},{"t":61233.46,"v":4.92,"r":1.02},{"t":61233.52,"v":3.61,"r":-0.29},{"t":61233.59,"v":4.08,"r":0.18},{"t":61233.66,"v":3.29,"r":-0.61},{"t":61233.72,"v":4.87,"r":0.87},{"t":61233.79,"v":4.05,"r":0.05},{"t":61233.86,"v":3.06,"r":-0.94},{"t":61233.92,"v":4.53,"r":0.53},{"t":61233.99,"v":3.79,"r":-0.21},
      {"t":61234.05,"v":3.31,"r":-0.57},{"t":61234.12,"v":4.29,"r":0.41},{"t":61234.19,"v":3.76,"r":-0.12},{"t":61234.25,"v":4.80,"r":0.92},{"t":61234.32,"v":3.52,"r":-0.36},{"t":61234.39,"v":4.53,"r":0.63},{"t":61234.46,"v":2.74,"r":-1.16},{"t":61234.52,"v":4.17,"r":0.27},{"t":61234.59,"v":3.42,"r":-0.48},{"t":61234.66,"v":5.05,"r":1.15},{"t":61234.72,"v":3.89,"r":0.02},{"t":61234.79,"v":3.08,"r":-0.79},{"t":61234.86,"v":4.21,"r":0.34},{"t":61234.92,"v":3.60,"r":-0.27},{"t":61234.99,"v":4.58,"r":0.71},
      {"t":61235.05,"v":4.02,"r":0.18},{"t":61235.12,"v":3.31,"r":-0.53},{"t":61235.19,"v":4.60,"r":0.76},{"t":61235.25,"v":2.87,"r":-0.97},{"t":61235.32,"v":4.23,"r":0.39},{"t":61235.39,"v":3.68,"r":-0.16},{"t":61235.46,"v":4.42,"r":0.58},{"t":61235.52,"v":3.42,"r":-0.42},{"t":61235.59,"v":4.93,"r":1.09},{"t":61235.66,"v":3.13,"r":-0.71},{"t":61235.72,"v":3.99,"r":0.24},{"t":61235.79,"v":3.42,"r":-0.33},{"t":61235.86,"v":4.61,"r":0.86},{"t":61235.92,"v":3.67,"r":-0.08},{"t":61235.99,"v":2.34,"r":-1.41},
      {"t":61236.05,"v":3.37,"r":-0.23},{"t":61236.12,"v":4.27,"r":0.67},{"t":61236.19,"v":2.99,"r":-0.61},{"t":61236.25,"v":3.85,"r":0.25},{"t":61236.32,"v":2.41,"r":-1.19},{"t":61236.39,"v":4.52,"r":0.82},{"t":61236.46,"v":3.66,"r":-0.04},{"t":61236.52,"v":4.19,"r":0.49},{"t":61236.59,"v":3.33,"r":-0.37},{"t":61236.66,"v":3.83,"r":0.13},{"t":61236.72,"v":4.92,"r":1.17},{"t":61236.79,"v":2.89,"r":-0.86},{"t":61236.86,"v":4.13,"r":0.38},{"t":61236.92,"v":3.23,"r":-0.52},{"t":61236.99,"v":4.69,"r":0.94},
      {"t":61237.05,"v":3.92,"r":0.42},{"t":61237.12,"v":3.16,"r":-0.34},{"t":61237.19,"v":4.39,"r":0.89},{"t":61237.25,"v":2.92,"r":-0.58},{"t":61237.32,"v":3.66,"r":0.16},{"t":61237.39,"v":2.35,"r":-1.23},{"t":61237.46,"v":4.15,"r":0.57},{"t":61237.52,"v":3.46,"r":-0.12},{"t":61237.59,"v":4.56,"r":0.98},{"t":61237.66,"v":2.81,"r":-0.77},{"t":61237.72,"v":3.62,"r":0.22},{"t":61237.79,"v":4.05,"r":0.65},{"t":61237.86,"v":2.95,"r":-0.45},{"t":61237.92,"v":4.73,"r":1.33},{"t":61237.99,"v":3.22,"r":-0.18},
      {"t":61238.05,"v":2.76,"r":-0.39},{"t":61238.12,"v":3.92,"r":0.77},{"t":61238.19,"v":3.09,"r":-0.06},{"t":61238.25,"v":3.63,"r":0.48},{"t":61238.32,"v":2.21,"r":-0.94},{"t":61238.39,"v":3.51,"r":0.21},{"t":61238.46,"v":2.67,"r":-0.63},{"t":61238.52,"v":4.39,"r":1.09},{"t":61238.59,"v":3.65,"r":0.35},{"t":61238.66,"v":3.04,"r":-0.26},{"t":61238.72,"v":2.38,"r":-1.12},{"t":61238.79,"v":4.06,"r":0.56},{"t":61238.86,"v":3.09,"r":-0.41},{"t":61238.92,"v":4.33,"r":0.83},{"t":61238.99,"v":3.61,"r":0.11},
      {"t":61239.05,"v":3.94,"r":0.59},{"t":61239.12,"v":3.08,"r":-0.27},{"t":61239.19,"v":3.49,"r":0.14},{"t":61239.25,"v":2.32,"r":-1.03},{"t":61239.32,"v":4.06,"r":0.71},{"t":61239.39,"v":2.77,"r":-0.48},{"t":61239.46,"v":4.18,"r":0.93},{"t":61239.52,"v":3.31,"r":0.06},{"t":61239.59,"v":2.56,"r":-0.69},{"t":61239.66,"v":3.57,"r":0.32},{"t":61239.72,"v":3.05,"r":-0.15},{"t":61239.79,"v":4.41,"r":1.21},{"t":61239.86,"v":2.33,"r":-0.87},{"t":61239.92,"v":3.64,"r":0.44},{"t":61239.99,"v":2.67,"r":-0.53},
      {"t":61240.05,"v":2.99,"r":-0.11},{"t":61240.12,"v":3.56,"r":0.46},{"t":61240.19,"v":2.31,"r":-0.79},{"t":61240.25,"v":4.24,"r":1.14},{"t":61240.32,"v":2.86,"r":-0.24},{"t":61240.39,"v":3.81,"r":0.61},{"t":61240.46,"v":2.73,"r":-0.47},{"t":61240.52,"v":3.38,"r":0.18},{"t":61240.59,"v":2.22,"r":-0.98},{"t":61240.66,"v":4.04,"r":0.84},{"t":61240.72,"v":2.90,"r":-0.35},{"t":61240.79,"v":3.52,"r":0.27},{"t":61240.86,"v":4.62,"r":1.37},{"t":61240.92,"v":2.63,"r":-0.62},{"t":61240.99,"v":3.34,"r":0.09},
      {"t":61241.05,"v":3.36,"r":0.31},{"t":61241.12,"v":2.59,"r":-0.46},{"t":61241.19,"v":3.79,"r":0.74},{"t":61241.25,"v":2.87,"r":-0.18},{"t":61241.32,"v":1.68,"r":-1.37},{"t":61241.39,"v":3.55,"r":0.52},{"t":61241.46,"v":2.94,"r":-0.09},{"t":61241.52,"v":3.99,"r":0.96},{"t":61241.59,"v":2.39,"r":-0.64},{"t":61241.66,"v":3.18,"r":0.15},{"t":61241.72,"v":2.77,"r":-0.28},{"t":61241.79,"v":3.92,"r":0.87},{"t":61241.86,"v":2.13,"r":-0.92},{"t":61241.92,"v":3.43,"r":0.38},{"t":61241.99,"v":4.21,"r":1.16},
      {"t":61242.05,"v":2.61,"r":-0.54},{"t":61242.12,"v":3.37,"r":0.22},{"t":61242.19,"v":2.80,"r":-0.35},{"t":61242.25,"v":3.98,"r":0.83},{"t":61242.32,"v":3.20,"r":0.05},{"t":61242.39,"v":2.54,"r":-0.76},{"t":61242.46,"v":4.49,"r":1.19},{"t":61242.52,"v":3.08,"r":-0.22},{"t":61242.59,"v":3.77,"r":0.47},{"t":61242.66,"v":2.26,"r":-1.04},{"t":61242.72,"v":3.84,"r":0.64},{"t":61242.79,"v":3.07,"r":-0.13},{"t":61242.86,"v":3.49,"r":0.29},{"t":61242.92,"v":2.52,"r":-0.68},{"t":61242.99,"v":4.11,"r":0.91},
      {"t":61243.05,"v":3.47,"r":0.47},{"t":61243.12,"v":2.14,"r":-0.86},{"t":61243.19,"v":3.35,"r":0.35},{"t":61243.25,"v":2.93,"r":-0.07},{"t":61243.32,"v":4.12,"r":1.12},{"t":61243.39,"v":2.60,"r":-0.42},{"t":61243.46,"v":3.61,"r":0.59},{"t":61243.52,"v":1.75,"r":-1.27},{"t":61243.59,"v":3.26,"r":0.24},{"t":61243.66,"v":3.75,"r":0.73},{"t":61243.72,"v":2.59,"r":-0.31},{"t":61243.79,"v":3.03,"r":0.13},{"t":61243.86,"v":2.24,"r":-0.66},{"t":61243.92,"v":4.35,"r":1.45},{"t":61243.99,"v":2.71,"r":-0.19},
      {"t":61244.05,"v":2.42,"r":-0.36},{"t":61244.12,"v":3.47,"r":0.69},{"t":61244.19,"v":2.57,"r":-0.21},{"t":61244.25,"v":3.72,"r":0.94},{"t":61244.32,"v":2.15,"r":-0.63},{"t":61244.39,"v":3.03,"r":0.18},{"t":61244.46,"v":3.38,"r":0.53},{"t":61244.52,"v":1.91,"r":-0.94},{"t":61244.59,"v":3.22,"r":0.37},{"t":61244.66,"v":2.71,"r":-0.14},{"t":61244.72,"v":3.96,"r":1.06},{"t":61244.79,"v":2.43,"r":-0.47},{"t":61244.86,"v":3.16,"r":0.26},{"t":61244.92,"v":1.69,"r":-1.21},{"t":61244.99,"v":3.52,"r":0.62},
      {"t":61245.05,"v":2.86,"r":0.14},{"t":61245.12,"v":2.14,"r":-0.58},{"t":61245.19,"v":3.93,"r":1.21},{"t":61245.25,"v":2.39,"r":-0.33},{"t":61245.32,"v":3.19,"r":0.47},{"t":61245.39,"v":1.86,"r":-0.99},{"t":61245.46,"v":3.14,"r":0.29},{"t":61245.52,"v":3.56,"r":0.71},{"t":61245.59,"v":2.61,"r":-0.24},{"t":61245.66,"v":2.91,"r":0.06},{"t":61245.72,"v":2.08,"r":-0.72},{"t":61245.79,"v":3.78,"r":0.98},{"t":61245.86,"v":2.39,"r":-0.41},{"t":61245.92,"v":3.15,"r":0.35},{"t":61245.99,"v":1.67,"r":-1.13},
      {"t":61246.05,"v":2.17,"r":-0.47},{"t":61246.12,"v":2.90,"r":0.26},{"t":61246.19,"v":1.95,"r":-0.69},{"t":61246.25,"v":3.21,"r":0.57},{"t":61246.32,"v":2.77,"r":0.13},{"t":61246.39,"v":2.29,"r":-0.31},{"t":61246.46,"v":3.88,"r":1.28},{"t":61246.52,"v":1.75,"r":-0.85},{"t":61246.59,"v":3.01,"r":0.41},{"t":61246.66,"v":2.48,"r":-0.12},{"t":61246.72,"v":3.29,"r":0.74},{"t":61246.79,"v":1.22,"r":-1.33},{"t":61246.86,"v":2.74,"r":0.19},{"t":61246.92,"v":3.17,"r":0.62},{"t":61246.99,"v":2.28,"r":-0.27},
      {"t":61247.05,"v":2.78,"r":0.36},{"t":61247.12,"v":1.40,"r":-1.02},{"t":61247.19,"v":3.05,"r":0.63},{"t":61247.25,"v":2.18,"r":-0.24},{"t":61247.32,"v":3.37,"r":0.95},{"t":61247.39,"v":1.77,"r":-0.56},{"t":61247.46,"v":2.41,"r":0.08},{"t":61247.52,"v":3.51,"r":1.18},{"t":61247.59,"v":1.94,"r":-0.39},{"t":61247.66,"v":2.60,"r":0.27},{"t":61247.72,"v":1.49,"r":-0.81},{"t":61247.79,"v":2.74,"r":0.44},{"t":61247.86,"v":2.17,"r":-0.13},{"t":61247.92,"v":3.09,"r":0.79},{"t":61247.99,"v":1.69,"r":-0.61},
      {"t":61248.05,"v":1.92,"r":-0.28},{"t":61248.12,"v":2.74,"r":0.54},{"t":61248.19,"v":1.78,"r":-0.42},{"t":61248.25,"v":3.27,"r":1.07},{"t":61248.32,"v":1.49,"r":-0.71},{"t":61248.39,"v":2.36,"r":0.19},{"t":61248.46,"v":1.04,"r":-1.13},{"t":61248.52,"v":2.55,"r":0.38},{"t":61248.59,"v":3.03,"r":0.86},{"t":61248.66,"v":1.62,"r":-0.55},{"t":61248.72,"v":2.32,"r":0.12},{"t":61248.79,"v":3.49,"r":1.29},{"t":61248.86,"v":1.86,"r":-0.34},{"t":61248.92,"v":2.67,"r":0.47},{"t":61248.99,"v":1.35,"r":-0.85},
      {"t":61249.05,"v":2.68,"r":0.51},{"t":61249.12,"v":1.78,"r":-0.39},{"t":61249.19,"v":2.44,"r":0.27},{"t":61249.25,"v":1.25,"r":-0.92},{"t":61249.32,"v":3.22,"r":1.05},{"t":61249.39,"v":2.05,"r":-0.17},{"t":61249.46,"v":2.94,"r":0.72},{"t":61249.52,"v":0.91,"r":-1.31},{"t":61249.59,"v":2.58,"r":0.36},{"t":61249.66,"v":1.61,"r":-0.61},{"t":61249.72,"v":2.46,"r":0.19},{"t":61249.79,"v":3.16,"r":0.89},{"t":61249.86,"v":1.81,"r":-0.46},{"t":61249.92,"v":3.40,"r":1.13},{"t":61249.99,"v":2.19,"r":-0.08},
      {"t":61250.05,"v":1.70,"r":-0.25},{"t":61250.12,"v":2.57,"r":0.62},{"t":61250.19,"v":0.86,"r":-1.09},{"t":61250.25,"v":2.32,"r":0.37},{"t":61250.32,"v":1.51,"r":-0.44},{"t":61250.39,"v":2.98,"r":0.93},{"t":61250.46,"v":2.16,"r":0.11},{"t":61250.52,"v":1.37,"r":-0.68},{"t":61250.59,"v":3.32,"r":1.27},{"t":61250.66,"v":1.73,"r":-0.32},{"t":61250.72,"v":2.64,"r":0.49},{"t":61250.79,"v":0.69,"r":-1.46},{"t":61250.86,"v":2.32,"r":0.17},{"t":61250.92,"v":3.00,"r":0.85},{"t":61250.99,"v":1.58,"r":-0.57}
    ],
    "smooth": [
      {"t":61217.00,"v":3.90},{"t":61217.71,"v":4.36},{"t":61218.21,"v":4.03},{"t":61218.66,"v":4.21},{"t":61219.10,"v":3.90},{"t":61219.55,"v":4.12},{"t":61220.22,"v":3.52},{"t":61220.72,"v":3.81},{"t":61221.05,"v":3.78},{"t":61221.50,"v":3.90},{"t":61222.05,"v":3.41},{"t":61222.67,"v":4.28},{"t":61223.34,"v":4.03},{"t":61224.01,"v":3.72},{"t":61224.67,"v":4.01},{"t":61225.23,"v":3.72},{"t":61225.79,"v":4.07},{"t":61226.24,"v":4.07},{"t":61226.79,"v":4.25},{"t":61227.24,"v":3.96},{"t":61227.80,"v":3.98},{"t":61228.35,"v":3.98},{"t":61228.91,"v":4.34},{"t":61229.47,"v":4.56},{"t":61229.69,"v":4.38},{"t":61230.08,"v":3.85},{"t":61230.58,"v":4.10},{"t":61231.03,"v":3.98},{"t":61231.59,"v":4.03},{"t":61232.09,"v":3.81},{"t":61232.59,"v":3.98},{"t":61233.09,"v":3.75},{"t":61233.59,"v":4.03},{"t":61234.12,"v":3.87},{"t":61234.43,"v":3.90},{"t":61235.00,"v":3.84},{"t":61235.58,"v":3.84},{"t":61236.03,"v":3.59},{"t":61236.61,"v":3.78},{"t":61237.19,"v":3.48},{"t":61237.65,"v":3.63},{"t":61238.22,"v":3.06},{"t":61238.80,"v":3.52},{"t":61239.26,"v":3.31},{"t":61239.72,"v":3.20},{"t":61240.17,"v":3.10},{"t":61240.75,"v":3.30},{"t":61241.32,"v":3.03},{"t":61241.89,"v":3.02},{"t":61242.59,"v":3.32},{"t":61243.05,"v":2.99},{"t":61243.62,"v":3.04},{"t":61244.19,"v":2.75},{"t":61244.77,"v":2.93},{"t":61245.34,"v":2.71},{"t":61245.80,"v":2.90},{"t":61246.38,"v":2.64},{"t":61246.95,"v":2.53},{"t":61247.41,"v":2.33},{"t":61247.87,"v":2.31},{"t":61248.33,"v":2.13},{"t":61248.79,"v":2.22},{"t":61249.25,"v":2.16},{"t":61249.82,"v":2.29},{"t":61250.28,"v":1.91},{"t":61250.80,"v":2.16},{"t":61251.00,"v":2.00}
    ],
    "tri": [
      {"t":61224,"v":3.88,"lab":"3.8"},{"t":61229,"v":4.50,"lab":"4.4"},{"t":61234,"v":4.07,"lab":"3.9"},{"t":61239,"v":3.61,"lab":"3.5"},{"t":61244,"v":2.95,"lab":"2.8"},{"t":61249,"v":2.34,"lab":"2.2"}
    ],
    "adev": [
      {"x":3.014,"y":-12.08,"lab":"3.2"},{"x":3.315,"y":-12.54,"lab":"282.3"},{"x":3.616,"y":-12.91,"lab":"123.6"},{"x":3.917,"y":-13.24,"lab":"57.8"},{"x":4.218,"y":-13.66,"lab":"21.4"},{"x":4.519,"y":-14.05,"lab":"8.8"},{"x":4.820,"y":-14.48,"lab":"3.3"},{"x":5.121,"y":-14.85,"lab":"1.4"},{"x":5.422,"y":-15.27,"lab":"0.5"},{"x":5.723,"y":-15.33,"lab":"0.5"}
    ],
    "tdev": [
      {"x":3.014,"y":-9.318,"lab":"4.8"},{"x":3.315,"y":-9.476,"lab":"3.4"},{"x":3.616,"y":-9.533,"lab":"2.9"},{"x":3.917,"y":-9.56,"lab":"2.8"},{"x":4.218,"y":-9.69,"lab":"2.0"},{"x":4.519,"y":-9.775,"lab":"1.7"},{"x":4.820,"y":-9.898,"lab":"1.3"},{"x":5.121,"y":-9.97,"lab":"1.1"},{"x":5.422,"y":-10.088,"lab":"0.8"},{"x":5.723,"y":-9.842,"lab":"1.4"}
    ],
    "marks": [
      {"x":3.255,"lab":"h/2"},{"x":3.556,"lab":"h"},{"x":4.033,"lab":"d/8"},{"x":4.334,"lab":"d/4"},{"x":4.635,"lab":"d/2"},{"x":4.936,"lab":"day"},{"x":5.414,"lab":"ddd"},{"x":5.782,"lab":"wk"}
    ]
  },
  "vconcat": [
    {
      "width": 1260,
      "height": 720,
      "title": {"text": "UTC(SMD)-UTC(PTB)\u00a0 /GPS\u00a0 P3\u00a0 (SD31,PT13)", "font": "Liberation Sans", "fontSize": 35, "fontWeight": "normal", "color": "#000", "anchor": "middle", "baseline": "alphabetic", "offset": -3},
      "resolve": {"axis": {"x": "independent", "y": "independent"}},
      "layer": [
        {
          "data": {"name": "obs"},
          "mark": {"type": "point", "shape": "M-1,-1L1,1M1,-1L-1,1", "filled": false, "stroke": "#000", "strokeWidth": 1.1, "size": 28, "opacity": 1},
          "encoding": {
            "x": {"field": "t", "type": "quantitative", "scale": {"domain": [61217, 61251], "nice": false, "zero": false}, "axis": {"orient": "bottom", "values": [61220, 61225, 61230, 61235, 61240, 61245, 61250], "format": "d", "tickSize": 13, "title": "Modified Julian Date", "titleY": 78, "titleBaseline": "alphabetic"}},
            "y": {"field": "v", "type": "quantitative", "scale": {"domain": [-4, 15], "nice": false, "zero": false}, "axis": {"orient": "left", "values": [0, 5, 10, 15], "format": "d", "tickSize": 13, "title": "nanosecond", "titleX": -68, "titleY": 363, "titleBaseline": "alphabetic"}}
          }
        },
        {
          "data": {"name": "smooth"},
          "mark": {"type": "line", "color": "#1e90ff", "strokeWidth": 4, "interpolate": "monotone"},
          "encoding": {
            "x": {"field": "t", "type": "quantitative", "scale": {"domain": [61217, 61251], "nice": false, "zero": false}, "axis": {"orient": "top", "values": [61220, 61225, 61230, 61235, 61240, 61245, 61250], "tickSize": 14, "labels": false, "title": null}},
            "y": {"field": "v", "type": "quantitative", "scale": {"domain": [-4, 15], "nice": false, "zero": false}, "axis": {"orient": "right", "values": [0, 5, 10, 15], "tickSize": 14, "labels": false, "title": null}}
          }
        },
        {
          "data": {"name": "tri"},
          "mark": {"type": "point", "shape": "triangle-up", "size": 1600, "filled": false, "stroke": "#ff0000", "strokeWidth": 4, "opacity": 1},
          "encoding": {
            "x": {"field": "t", "type": "quantitative", "scale": {"domain": [61217, 61251], "nice": false, "zero": false}, "axis": {"orient": "bottom", "values": [61217, 61218, 61219, 61220, 61221, 61222, 61223, 61224, 61225, 61226, 61227, 61228, 61229, 61230, 61231, 61232, 61233, 61234, 61235, 61236, 61237, 61238, 61239, 61240, 61241, 61242, 61243, 61244, 61245, 61246, 61247, 61248, 61249, 61250, 61251], "tickSize": 7, "labels": false, "title": null}},
            "y": {"field": "v", "type": "quantitative", "scale": {"domain": [-4, 15], "nice": false, "zero": false}, "axis": null}
          }
        },
        {
          "data": {"name": "tri"},
          "mark": {"type": "text", "color": "#ff0000", "fontSize": 26, "fontWeight": "bold", "baseline": "alphabetic", "dy": -165},
          "encoding": {
            "x": {"field": "t", "type": "quantitative", "scale": {"domain": [61217, 61251], "nice": false, "zero": false}, "axis": {"orient": "top", "values": [61217, 61218, 61219, 61220, 61221, 61222, 61223, 61224, 61225, 61226, 61227, 61228, 61229, 61230, 61231, 61232, 61233, 61234, 61235, 61236, 61237, 61238, 61239, 61240, 61241, 61242, 61243, 61244, 61245, 61246, 61247, 61248, 61249, 61250, 61251], "tickSize": 7, "labels": false, "title": null}},
            "y": {"field": "v", "type": "quantitative", "scale": {"domain": [-4, 15], "nice": false, "zero": false}, "axis": null},
            "text": {"field": "lab"}
          }
        },
        {
          "data": {"values": [{}]},
          "mark": {"type": "text", "align": "left", "baseline": "alphabetic", "fontSize": 30, "fontWeight": "bold", "color": "#000"},
          "encoding": {
            "x": {"datum": 61218.03, "type": "quantitative", "scale": {"domain": [61217, 61251], "nice": false, "zero": false}, "axis": null},
            "y": {"datum": -3.09, "type": "quantitative", "scale": {"domain": [-4, 15], "nice": false, "zero": false}, "axis": null},
            "text": {"value": "GPS.GPI/Tai2607__SD31-PT13/079-005#_\u00a0 2927/1_AV/L2U__CLB__________"}
          }
        }
      ]
    },
    {
      "width": 1260,
      "height": 449.4,
      "resolve": {"axis": {"x": "independent", "y": "independent"}},
      "layer": [
        {
          "data": {"name": "obs"},
          "mark": {"type": "point", "shape": "M-1,-1L1,1M1,-1L-1,1", "filled": false, "stroke": "#000", "strokeWidth": 1.1, "size": 28, "opacity": 1},
          "encoding": {
            "x": {"field": "t", "type": "quantitative", "scale": {"domain": [61217, 61251], "nice": false, "zero": false}, "axis": {"orient": "bottom", "values": [61220, 61225, 61230, 61235, 61240, 61245, 61250], "format": "d", "tickSize": 13, "title": "Modified Julian Date", "titleY": 78, "titleBaseline": "alphabetic"}},
            "y": {"field": "r", "type": "quantitative", "scale": {"domain": [-2.137, 2.442], "nice": false, "zero": false}, "axis": {"orient": "left", "values": [-2, -1.5, -1, -0.5, 0, 0.5, 1, 1.5, 2], "format": ".1f", "tickSize": 14, "title": "residuals (ns)", "titleX": -95, "titleY": 234, "titleBaseline": "alphabetic"}}
          }
        },
        {
          "data": {"values": [{"t": 61230, "r": 0}]},
          "mark": {"type": "point", "opacity": 0},
          "encoding": {
            "x": {"field": "t", "type": "quantitative", "scale": {"domain": [61217, 61251], "nice": false, "zero": false}, "axis": {"orient": "top", "values": [61220, 61225, 61230, 61235, 61240, 61245, 61250], "tickSize": 14, "labels": false, "title": null}},
            "y": {"field": "r", "type": "quantitative", "scale": {"domain": [-2.137, 2.442], "nice": false, "zero": false}, "axis": {"orient": "right", "values": [-2, -1.5, -1, -0.5, 0, 0.5, 1, 1.5, 2], "tickSize": 14, "labels": false, "title": null}}
          }
        },
        {
          "data": {"values": [{"t": 61230, "r": 0}]},
          "mark": {"type": "point", "opacity": 0},
          "encoding": {
            "x": {"field": "t", "type": "quantitative", "scale": {"domain": [61217, 61251], "nice": false, "zero": false}, "axis": {"orient": "bottom", "values": [61217, 61218, 61219, 61220, 61221, 61222, 61223, 61224, 61225, 61226, 61227, 61228, 61229, 61230, 61231, 61232, 61233, 61234, 61235, 61236, 61237, 61238, 61239, 61240, 61241, 61242, 61243, 61244, 61245, 61246, 61247, 61248, 61249, 61250, 61251], "tickSize": 7, "labels": false, "title": null}},
            "y": {"field": "r", "type": "quantitative", "scale": {"domain": [-2.137, 2.442], "nice": false, "zero": false}, "axis": null}
          }
        },
        {
          "data": {"values": [{"t": 61230, "r": 0}]},
          "mark": {"type": "point", "opacity": 0},
          "encoding": {
            "x": {"field": "t", "type": "quantitative", "scale": {"domain": [61217, 61251], "nice": false, "zero": false}, "axis": {"orient": "top", "values": [61217, 61218, 61219, 61220, 61221, 61222, 61223, 61224, 61225, 61226, 61227, 61228, 61229, 61230, 61231, 61232, 61233, 61234, 61235, 61236, 61237, 61238, 61239, 61240, 61241, 61242, 61243, 61244, 61245, 61246, 61247, 61248, 61249, 61250, 61251], "tickSize": 7, "labels": false, "title": null}},
            "y": {"field": "r", "type": "quantitative", "scale": {"domain": [-2.137, 2.442], "nice": false, "zero": false}, "axis": null}
          }
        },
        {
          "data": {"values": [{}]},
          "mark": {"type": "text", "align": "left", "baseline": "alphabetic", "fontSize": 25, "fontWeight": "bold", "color": "#000"},
          "encoding": {
            "x": {"datum": 61218.03, "type": "quantitative", "scale": {"domain": [61217, 61251], "nice": false, "zero": false}, "axis": null},
            "y": {"datum": -1.915, "type": "quantitative", "scale": {"domain": [-2.137, 2.442], "nice": false, "zero": false}, "axis": null},
            "text": {"value": "Max Smoothing Residual: -1.953_Vdk1.D5\u00a0 Sigma= 0.536ns14/54_08/04/26Mn______3.457"}
          }
        }
      ]
    },
    {
      "bounds": "flush",
      "spacing": 0,
      "hconcat": [
        {
          "width": 7,
          "height": 449.5,
          "view": {"stroke": null},
          "data": {"values": [{"a": 0}]},
          "mark": {"type": "point", "opacity": 0},
          "encoding": {
            "x": {"field": "a", "type": "quantitative", "axis": null},
            "y": {"field": "a", "type": "quantitative", "axis": null}
          }
        },
        {
          "bounds": "flush",
          "spacing": 144,
          "hconcat": [
            {
              "width": 540,
              "height": 449.5,
              "resolve": {"axis": {"x": "independent", "y": "independent"}},
              "layer": [
                {
                  "data": {"name": "adev"},
                  "mark": {"type": "circle", "size": 107, "color": "#000", "opacity": 1},
                  "encoding": {
                    "x": {"field": "x", "type": "quantitative", "scale": {"domain": [3, 6], "nice": false, "zero": false}, "axis": {"orient": "bottom", "values": [3, 4, 5, 6], "format": "d", "tickSize": 13, "title": "Averaging time, log(τ) (s)", "titleY": 77, "titleBaseline": "alphabetic"}},
                    "y": {"field": "y", "type": "quantitative", "scale": {"domain": [-16.5, -11.5], "nice": false, "zero": false}, "axis": {"orient": "left", "values": [-16, -15, -14, -13, -12], "format": "d", "tickSize": 13, "title": "Modified Allan Deviation (10⁻¹⁵)", "titleX": -86, "titleY": 235, "titleBaseline": "alphabetic"}}
                  }
                },
                {
                  "data": {"name": "adev"},
                  "mark": {"type": "text", "color": "#ff0000", "fontSize": 19, "fontWeight": "bold", "baseline": "alphabetic", "dy": -9},
                  "encoding": {
                    "x": {"field": "x", "type": "quantitative", "scale": {"domain": [3, 6], "nice": false, "zero": false}, "axis": {"orient": "top", "values": [3, 4, 5, 6], "tickSize": 14, "labels": false, "title": null}},
                    "y": {"field": "y", "type": "quantitative", "scale": {"domain": [-16.5, -11.5], "nice": false, "zero": false}, "axis": {"orient": "right", "values": [-16.5, -16, -15.5, -15, -14.5, -14, -13.5, -13, -12.5, -12, -11.5], "tickSize": 13, "labels": false, "title": null}},
                    "text": {"field": "lab"}
                  }
                },
                {
                  "data": {"name": "marks"},
                  "mark": {"type": "circle", "size": 38, "color": "#000", "opacity": 1, "clip": true},
                  "encoding": {
                    "x": {"field": "x", "type": "quantitative", "scale": {"domain": [3, 6], "nice": false, "zero": false}, "axis": {"orient": "bottom", "values": [3.5, 4.5, 5.5], "tickSize": 6, "labels": false, "title": null}},
                    "y": {"datum": -16.5, "type": "quantitative", "scale": {"domain": [-16.5, -11.5], "nice": false, "zero": false}, "axis": null}
                  }
                },
                {
                  "data": {"name": "marks"},
                  "mark": {"type": "text", "color": "#ff0000", "fontSize": 19, "fontWeight": "bold", "baseline": "alphabetic", "dy": -9},
                  "encoding": {
                    "x": {"field": "x", "type": "quantitative", "scale": {"domain": [3, 6], "nice": false, "zero": false}, "axis": {"orient": "top", "values": [3.5, 4.5, 5.5], "tickSize": 7, "labels": false, "title": null}},
                    "y": {"datum": -16.5, "type": "quantitative", "scale": {"domain": [-16.5, -11.5], "nice": false, "zero": false}, "axis": null},
                    "text": {"field": "lab"}
                  }
                },
                {
                  "data": {"values": [{"x": 4, "y": -14}]},
                  "mark": {"type": "point", "opacity": 0},
                  "encoding": {
                    "x": {"field": "x", "type": "quantitative", "scale": {"domain": [3, 6], "nice": false, "zero": false}, "axis": null},
                    "y": {"field": "y", "type": "quantitative", "scale": {"domain": [-16.5, -11.5], "nice": false, "zero": false}, "axis": {"orient": "left", "values": [-16.5, -15.5, -14.5, -13.5, -12.5, -11.5], "tickSize": 13, "labels": false, "title": null}}
                  }
                },
                {
                  "data": {"values": [{}]},
                  "mark": {"type": "text", "align": "left", "baseline": "alphabetic", "fontSize": 17, "fontWeight": "bold", "color": "#000"},
                  "encoding": {
                    "x": {"datum": 3.243, "type": "quantitative", "scale": {"domain": [3, 6], "nice": false, "zero": false}, "axis": null},
                    "y": {"datum": -11.84, "type": "quantitative", "scale": {"domain": [-16.5, -11.5], "nice": false, "zero": false}, "axis": null},
                    "text": {"value": "τ = 1033s"}
                  }
                }
              ]
            },
            {
              "width": 540,
              "height": 449.5,
              "resolve": {"axis": {"x": "independent", "y": "independent"}},
              "layer": [
                {
                  "data": {"name": "tdev"},
                  "mark": {"type": "circle", "size": 107, "color": "#000", "opacity": 1},
                  "encoding": {
                    "x": {"field": "x", "type": "quantitative", "scale": {"domain": [2.75, 6], "nice": false, "zero": false}, "axis": {"orient": "bottom", "values": [3, 4, 5, 6], "format": "d", "tickSize": 13, "title": "Averaging time, log(τ) (s)", "titleY": 77, "titleBaseline": "alphabetic"}},
                    "y": {"field": "y", "type": "quantitative", "scale": {"domain": [-11, -8.5], "nice": false, "zero": false}, "axis": {"orient": "left", "values": [-11, -10, -9], "format": "d", "tickSize": 13, "title": "Time deviation (10⁻¹⁰ s)", "titleX": -85, "titleY": 235, "titleBaseline": "alphabetic"}}
                  }
                },
                {
                  "data": {"name": "tdev"},
                  "mark": {"type": "text", "color": "#ff0000", "fontSize": 17, "fontWeight": "bold", "baseline": "alphabetic", "dy": -17},
                  "encoding": {
                    "x": {"field": "x", "type": "quantitative", "scale": {"domain": [2.75, 6], "nice": false, "zero": false}, "axis": {"orient": "top", "values": [3, 4, 5, 6], "tickSize": 14, "labels": false, "title": null}},
                    "y": {"field": "y", "type": "quantitative", "scale": {"domain": [-11, -8.5], "nice": false, "zero": false}, "axis": {"orient": "right", "values": [-11, -10, -9], "tickSize": 14, "labels": false, "title": null}},
                    "text": {"field": "lab"}
                  }
                },
                {
                  "data": {"name": "marks"},
                  "mark": {"type": "circle", "size": 110, "color": "#000", "opacity": 1, "clip": true},
                  "encoding": {
                    "x": {"field": "x", "type": "quantitative", "scale": {"domain": [2.75, 6], "nice": false, "zero": false}, "axis": {"orient": "bottom", "values": [3.5, 4.5, 5.5], "tickSize": 6, "labels": false, "title": null}},
                    "y": {"datum": -11, "type": "quantitative", "scale": {"domain": [-11, -8.5], "nice": false, "zero": false}, "axis": null}
                  }
                },
                {
                  "data": {"name": "marks"},
                  "mark": {"type": "text", "color": "#ff0000", "fontSize": 19, "fontWeight": "bold", "baseline": "alphabetic", "dy": -19},
                  "encoding": {
                    "x": {"field": "x", "type": "quantitative", "scale": {"domain": [2.75, 6], "nice": false, "zero": false}, "axis": {"orient": "top", "values": [3.5, 4.5, 5.5], "tickSize": 7, "labels": false, "title": null}},
                    "y": {"datum": -11, "type": "quantitative", "scale": {"domain": [-11, -8.5], "nice": false, "zero": false}, "axis": null},
                    "text": {"field": "lab"}
                  }
                },
                {
                  "data": {"values": [{"x": 4, "y": -10}]},
                  "mark": {"type": "point", "opacity": 0},
                  "encoding": {
                    "x": {"field": "x", "type": "quantitative", "scale": {"domain": [2.75, 6], "nice": false, "zero": false}, "axis": null},
                    "y": {"field": "y", "type": "quantitative", "scale": {"domain": [-11, -8.5], "nice": false, "zero": false}, "axis": {"orient": "left", "values": [-10.5, -9.5, -8.5], "tickSize": 7, "labels": false, "title": null}}
                  }
                },
                {
                  "data": {"values": [{"x": 4, "y": -10}]},
                  "mark": {"type": "point", "opacity": 0},
                  "encoding": {
                    "x": {"field": "x", "type": "quantitative", "scale": {"domain": [2.75, 6], "nice": false, "zero": false}, "axis": null},
                    "y": {"field": "y", "type": "quantitative", "scale": {"domain": [-11, -8.5], "nice": false, "zero": false}, "axis": {"orient": "right", "values": [-10.5, -9.5, -8.5], "tickSize": 7, "labels": false, "title": null}}
                  }
                }
              ]
            }
          ]
        }
      ]
    }
  ]
}
